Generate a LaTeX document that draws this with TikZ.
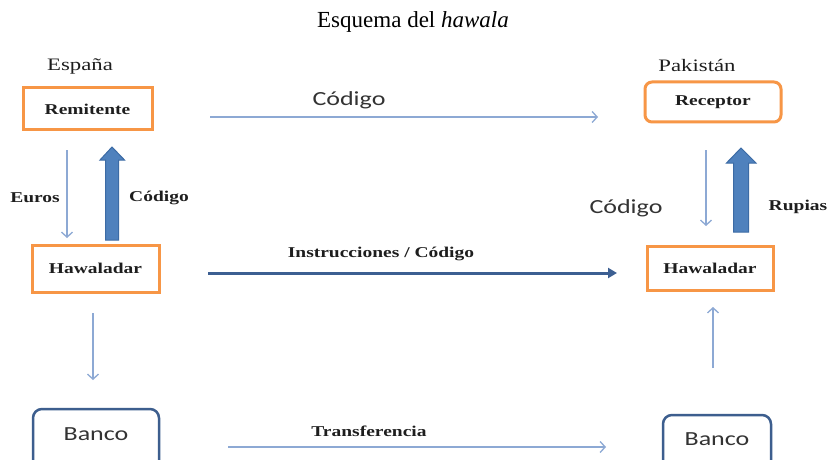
\documentclass[tikz,border=0pt]{standalone}
\usepackage{fontspec}
\setmainfont{Liberation Serif}
\newfontfamily\dser[FakeStretch=1.3]{Liberation Serif}
\newfontfamily\dsans[FakeStretch=1.3]{Carlito}
\usetikzlibrary{arrows.meta}
\definecolor{orng}{HTML}{F79646}
\definecolor{thinblue}{HTML}{8DA9D4}
\definecolor{thickfill}{HTML}{4F81BD}
\definecolor{thickdraw}{HTML}{3C6BA5}
\definecolor{instr}{HTML}{3C5F92}
\definecolor{bankblue}{HTML}{3D5E8E}
\definecolor{txt}{HTML}{1E1E1E}
\definecolor{stxt}{HTML}{333333}
\tikzset{
  orangebox/.style={draw=orng, line width=3pt, inner sep=0pt, text=txt,
    font=\dser\bfseries\fontsize{15}{18}\selectfont},
  bankbox/.style={draw=bankblue, line width=2.5pt, rounded corners=9pt, inner sep=0pt},
  serlabel/.style={text=txt, inner sep=0pt, font=\dser\bfseries\fontsize{15}{18}\selectfont},
  countrylabel/.style={text=txt, inner sep=0pt, font=\dser\fontsize{17.5}{20}\selectfont},
  sanslabel/.style={text=stxt, inner sep=0pt, font=\dsans\fontsize{20}{24}\selectfont},
  thinarrow/.style={draw=thinblue, line width=1.3pt, -{Straight Barb[length=5pt,width=11pt]}},
  fatarrow/.style={fill=thickfill, draw=thickdraw, line width=1pt, line join=miter},
}
\begin{document}
\begin{tikzpicture}[x=1pt,y=-1pt]
\useasboundingbox (0,0) rectangle (831,460);
\clip (0,0) rectangle (831,460);
\fill[white] (0,0) rectangle (831,460);

% title
\node[inner sep=0pt, text=black, font=\fontsize{23}{26}\selectfont] (title) at (413,22) {Esquema del \textit{hawala}};

% country labels
\node[countrylabel] (espana) at (80,66) {España};
\node[countrylabel] (pakistan) at (697,66) {Pakistán};

% boxes
\node[orangebox, minimum width=129pt, minimum height=42pt] (remitente) at (87.5,109) {Remitente};
\node[orangebox, minimum width=127pt, minimum height=47pt] (hawL) at (95.5,268.5) {Hawaladar};
\node[orangebox, rounded corners=7pt, minimum width=136pt, minimum height=40pt] (receptor) at (713,102) {Receptor};
\node[orangebox, minimum width=126pt, minimum height=44pt] (hawR) at (710,268) {Hawaladar};

\node[bankbox, minimum width=126pt, minimum height=62pt] (bancoL) at (96,440) {};
\node[sanslabel] (bancoLt) at (96,434) {Banco};
\node[bankbox, minimum width=108pt, minimum height=62pt] (bancoR) at (717,446) {};
\node[sanslabel] (bancoRt) at (717,439) {Banco};

% coordinates for free arrows
\coordinate (c1s) at (210,117);  \coordinate (c1e) at (598,117);
\coordinate (e1s) at (67,150);   \coordinate (e1e) at (67,238);
\coordinate (i1s) at (208,273);  \coordinate (i1e) at (617,273);
\coordinate (r1s) at (706,150);  \coordinate (r1e) at (706,226);
\coordinate (b1s) at (93,313);   \coordinate (b1e) at (93,380);
\coordinate (b2s) at (713,368);  \coordinate (b2e) at (713,307);
\coordinate (t1s) at (228,447);  \coordinate (t1e) at (606,447);

% thin arrows
\draw[thinarrow] (c1s) -- (c1e);
\draw[thinarrow] (e1s) -- (e1e);
\draw[thinarrow] (r1s) -- (r1e);
\draw[thinarrow] (b1s) -- (b1e);
\draw[thinarrow] (b2s) -- (b2e);
\draw[thinarrow] (t1s) -- (t1e);

% instructions arrow
\draw[draw=instr, line width=3pt, -{Triangle[length=9pt,width=10pt]}] (i1s) -- (i1e);

% thick arrows
\draw[fatarrow] (105.5,240) -- (105.5,160) -- (100,160) -- (112,147) -- (124.5,160) -- (118.5,160) -- (118.5,240) -- cycle;
\draw[fatarrow] (733.5,232) -- (733.5,163) -- (726.5,163) -- (741,148) -- (756,163) -- (748.5,163) -- (748.5,232) -- cycle;

% labels
\node[sanslabel] (codtop) at (349,100) {Código};
\node[serlabel] (euros) at (35,198) {Euros};
\node[serlabel] (codL) at (159,198) {Código};
\node[sanslabel] (codR) at (626,208) {Código};
\node[serlabel] (rupias) at (798,207) {Rupias};
\node[serlabel] (instrl) at (381,254) {Instrucciones / Código};
\node[serlabel] (transf) at (369,431) {Transferencia};
\end{tikzpicture}
\end{document}
